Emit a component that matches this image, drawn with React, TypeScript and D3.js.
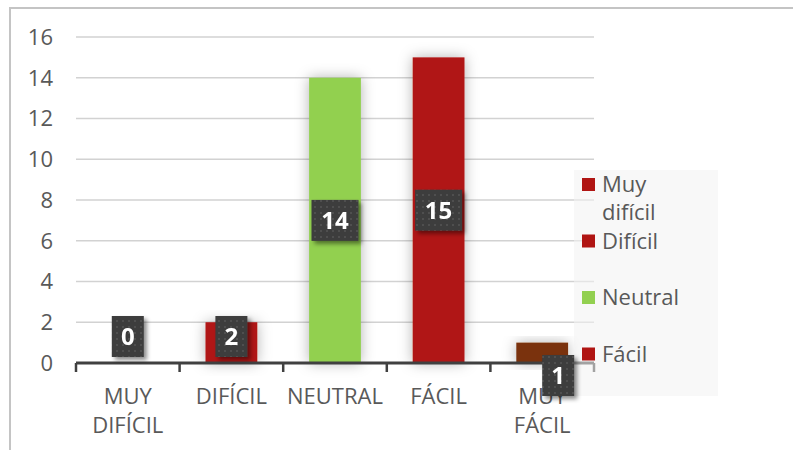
import React from "react";
import * as d3 from "d3";

const categories = ["MUY DIFÍCIL", "DIFÍCIL", "NEUTRAL", "FÁCIL", "MUY FÁCIL"];
const values = [0, 2, 14, 15, 1];
const barColors = ["#B01513", "#B01513", "#92D050", "#B01513", "#7A320A"];
const yTicks = [0, 2, 4, 6, 8, 10, 12, 14, 16];
const legendLabels = ["Muy difícil", "Difícil", "Neutral", "Fácil"];
const legendColors = ["#B01513", "#B01513", "#92D050", "#B01513"];
const labelShift = [[0, 0], [0, 0], [0, 0], [0, 0], [16, 39]];

const FONT = "'Open Sans', 'DejaVu Sans', sans-serif";
const W = 793;
const H = 450;
const plot = { left: 76, right: 594, top: 37, bottom: 363 };

function wrap(label: string, maxW: number, fs: number): string[] {
  const est = (s: string) => s.length * fs * 0.56;
  if (est(label) <= maxW) return [label];
  return label.split(" ");
}

export default function App() {
  const x = d3
    .scaleBand<string>()
    .domain(categories)
    .range([plot.left, plot.right])
    .paddingInner(0.5)
    .paddingOuter(0.25);
  const y = d3.scaleLinear().domain([0, 16]).range([plot.bottom, plot.top]);
  const step = x.step();
  const boundaries = d3.range(categories.length + 1).map((i) => plot.left + i * step);

  const boxH = 41;
  const legendX = 574;
  const legendY = 170;
  const legendStep = 56.5;

  return (
    <svg
      width={W}
      height={H}
      style={{ position: "absolute", left: 0, top: 0, background: "#fff" }}
      fontFamily={FONT}
    >
      <defs>
        <filter id="glow" x="-60%" y="-30%" width="220%" height="160%">
          <feGaussianBlur in="SourceAlpha" stdDeviation="7" result="b" />
          <feFlood floodColor="#000" floodOpacity="0.3" />
          <feComposite in2="b" operator="in" result="s" />
          <feMerge>
            <feMergeNode in="s" />
            <feMergeNode in="SourceGraphic" />
          </feMerge>
        </filter>
        <filter id="boxShadow" x="-30%" y="-30%" width="170%" height="170%">
          <feDropShadow dx="3" dy="3" stdDeviation="2" floodColor="#000" floodOpacity="0.45" />
        </filter>
        <pattern id="dots" width="6" height="6" patternUnits="userSpaceOnUse">
          <rect width="6" height="6" fill="#3C3C3C" />
          <circle cx="3" cy="3" r="1" fill="#575757" />
        </pattern>
      </defs>

      <rect x={10} y={8} width={W + 10} height={H + 10} fill="#fff" stroke="#C4C4C4" strokeWidth={2} />

      {yTicks.filter((t) => t > 0).map((t) => (
        <line key={t} x1={plot.left} x2={plot.right} y1={y(t)} y2={y(t)} stroke="#D2D2D2" strokeWidth={1.5} />
      ))}

      {yTicks.map((t) => (
        <text key={t} x={53} y={y(t)} dy="0.36em" textAnchor="end" fontSize={22} fill="#595959">
          {t}
        </text>
      ))}

      {categories.map((c, i) =>
        values[i] > 0 ? (
          <rect
            key={c}
            x={x(c)}
            y={y(values[i])}
            width={x.bandwidth()}
            height={y(0) - y(values[i])}
            fill={barColors[i]}
            filter="url(#glow)"
          />
        ) : null
      )}

      <line x1={plot.left} x2={plot.right} y1={y(0)} y2={y(0)} stroke="#404040" strokeWidth={3} />
      {boundaries.map((b, i) => (
        <line key={i} x1={b} x2={b} y1={y(0)} y2={y(0) + 9} stroke="#404040" strokeWidth={2.5} />
      ))}

      {categories.map((c) => {
        const lines = wrap(c, step, 22);
        const cx = (x(c) as number) + x.bandwidth() / 2;
        return (
          <text key={c} x={cx} y={404} textAnchor="middle" fontSize={22} fill="#595959">
            {lines.map((l, j) => (
              <tspan key={j} x={cx} dy={j === 0 ? 0 : 29}>
                {l}
              </tspan>
            ))}
          </text>
        );
      })}

      <rect x={legendX} y={legendY} width={144} height={226} fill="#F2F2F2" fillOpacity={0.55} />
      {legendLabels.map((l, i) => {
        const top = 178 + i * legendStep;
        const lines = wrap(l, 112, 22);
        return (
          <g key={l}>
            <rect x={582} y={top} width={13} height={13} fill={legendColors[i]} />
            <text x={602} y={top + 14} fontSize={22} fill="#595959">
              {lines.map((ln, j) => (
                <tspan key={j} x={602} dy={j === 0 ? 0 : 28}>
                  {ln}
                </tspan>
              ))}
            </text>
          </g>
        );
      })}

      {categories.map((c, i) => {
        const v = values[i];
        const txt = String(v);
        const bw = 17 + 15 * txt.length;
        const cx = (x(c) as number) + x.bandwidth() / 2 + labelShift[i][0];
        let cy = (y(v) + y(0)) / 2;
        cy = Math.min(cy, y(0) - boxH / 2 - 6) + labelShift[i][1];
        return (
          <g key={c} filter="url(#boxShadow)">
            <rect x={cx - bw / 2} y={cy - boxH / 2} width={bw} height={boxH} fill="url(#dots)" />
            <text
              x={cx}
              y={cy}
              dy="0.36em"
              textAnchor="middle"
              fontSize={24}
              fontWeight={700}
              fill="#fff"
            >
              {txt}
            </text>
          </g>
        );
      })}
    </svg>
  );
}
